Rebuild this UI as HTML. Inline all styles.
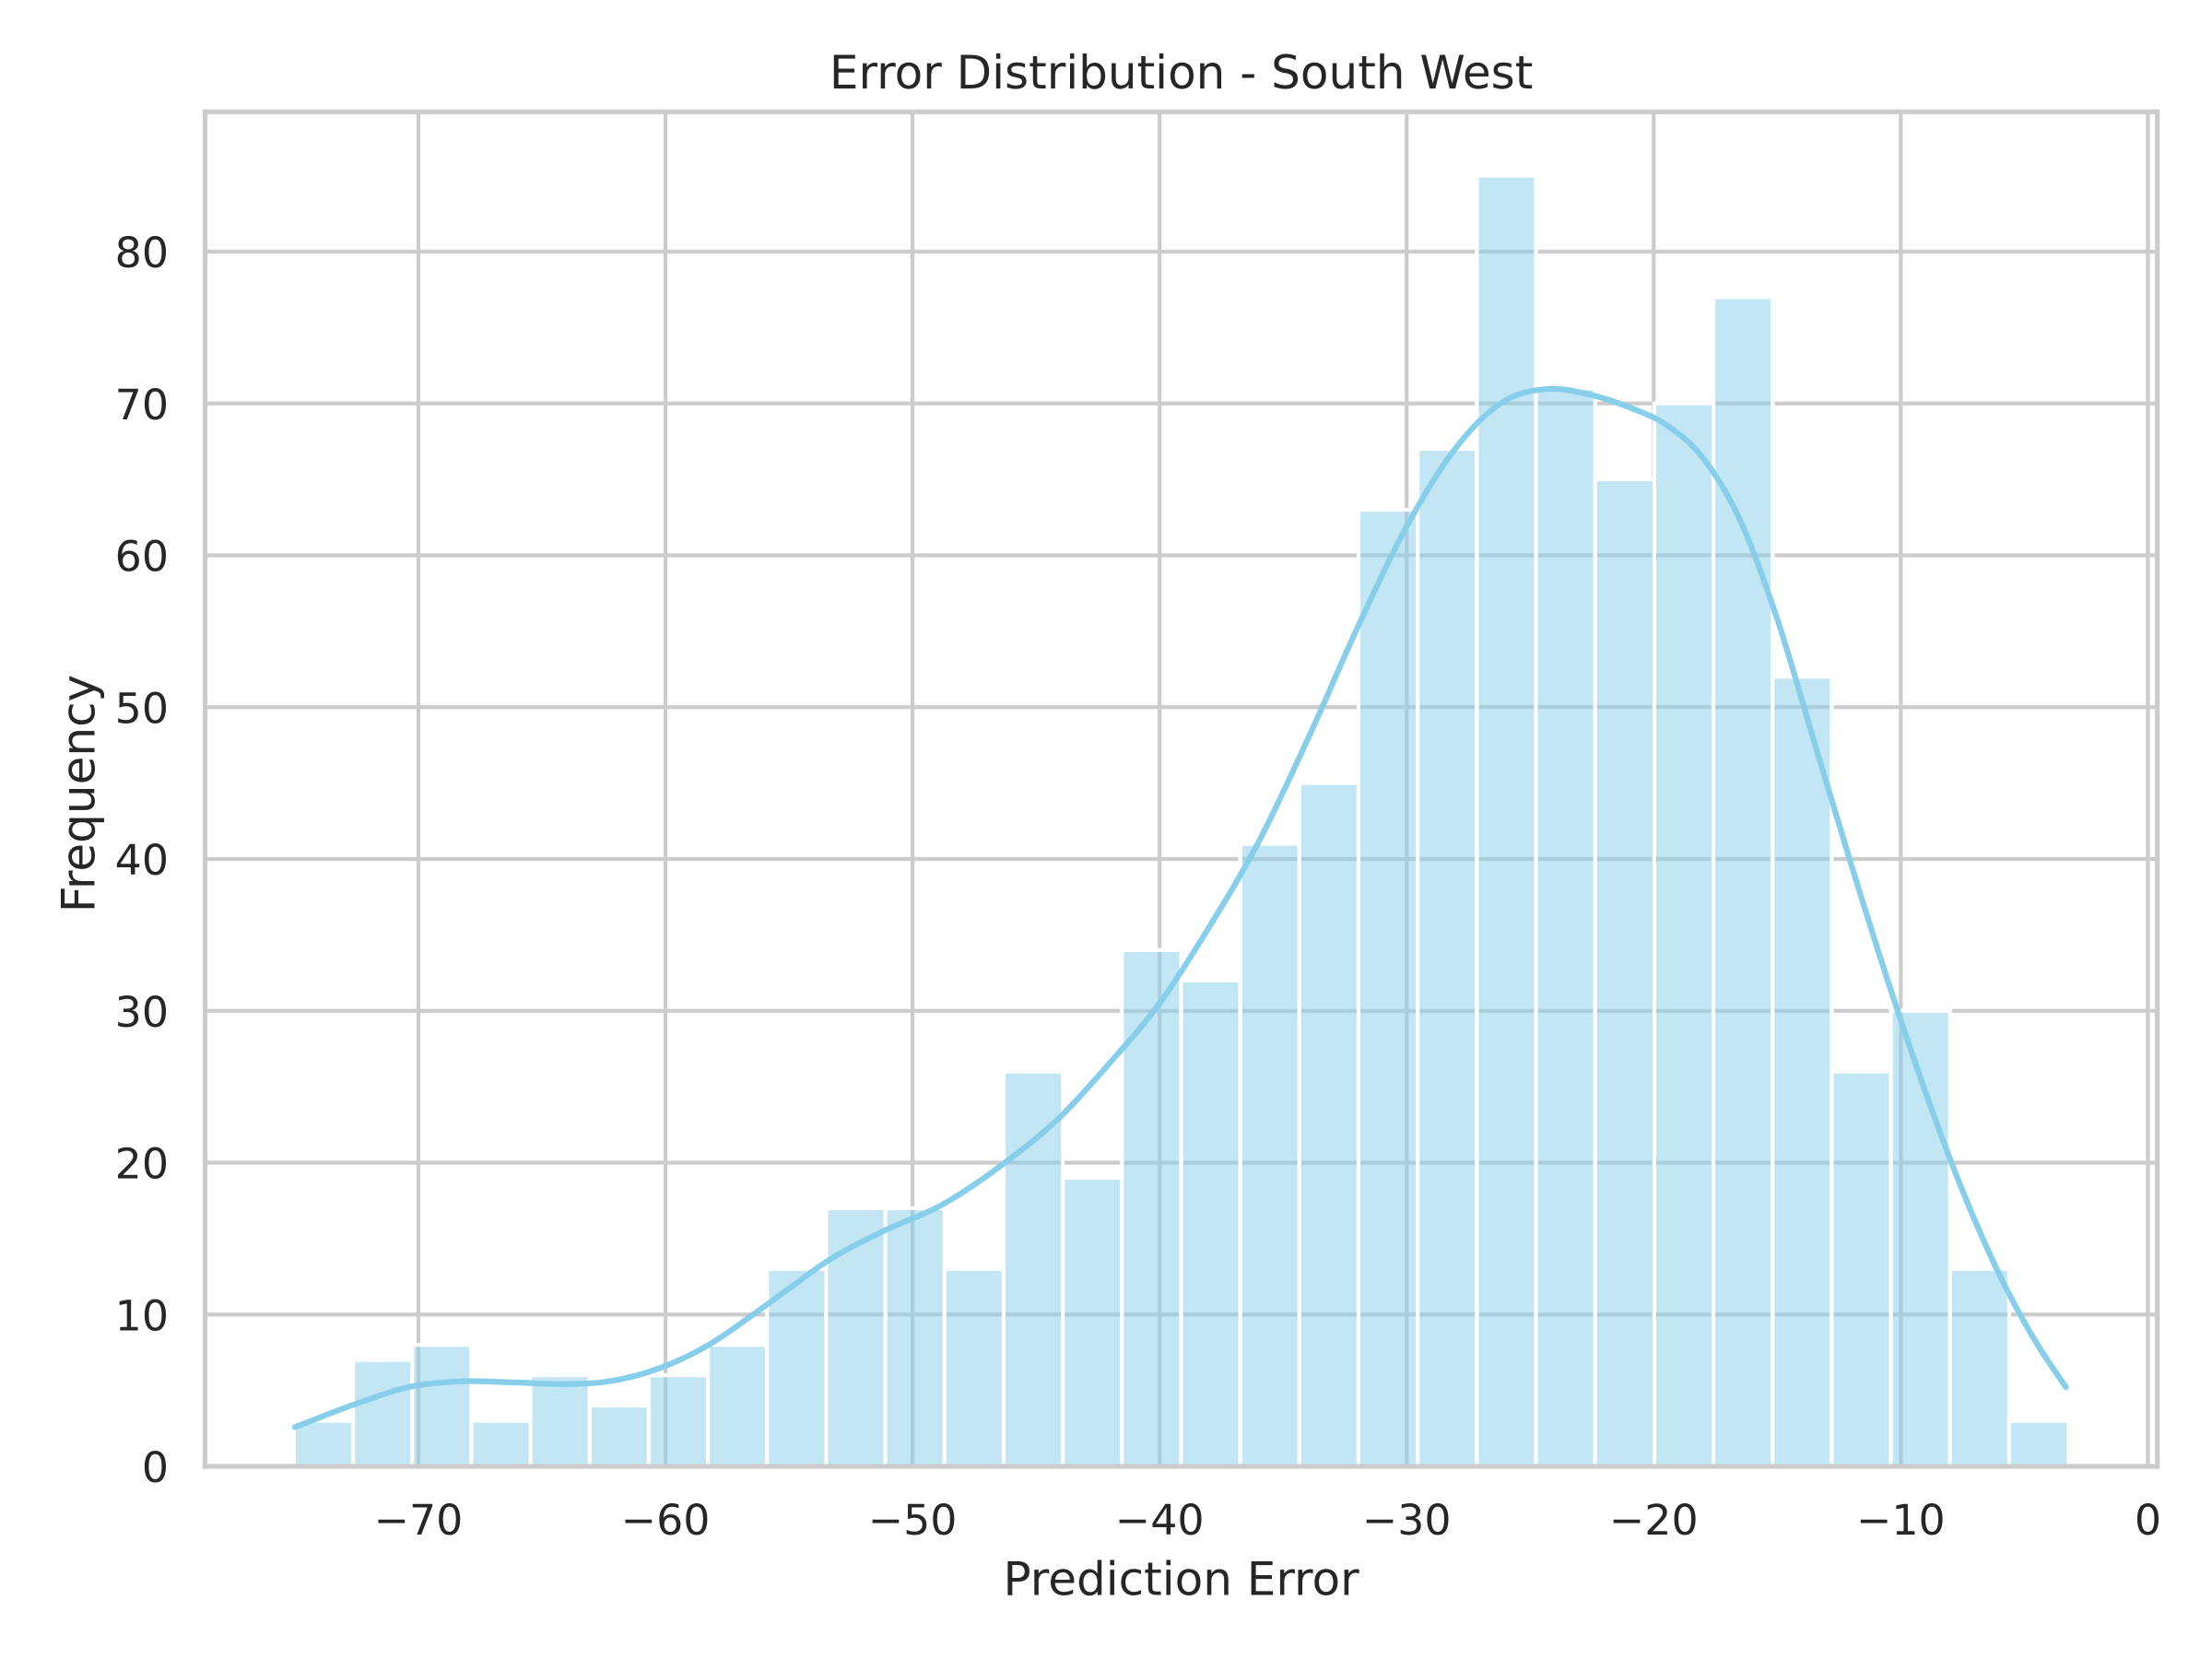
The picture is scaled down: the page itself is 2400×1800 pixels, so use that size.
<!DOCTYPE html>
<html lang="en">
<head>
<meta charset="utf-8">
<title>Error Distribution - South West</title>
<style>
  html, body { margin: 0; padding: 0; background: #ffffff; }
  svg { display: block; }
  text { font-family: "DejaVu Sans", "Liberation Sans", sans-serif; fill: #262626; }
</style>
</head>
<body>
<svg id="chart" xmlns="http://www.w3.org/2000/svg" width="2400" height="1800" viewBox="0 0 2400 1800">
  <rect x="0" y="0" width="2400" height="1800" fill="#ffffff"/>
  <defs>
    <clipPath id="plot-clip"><rect x="222.5" y="121.3" width="2118.2" height="1469.7"/></clipPath>
  </defs>
  <g id="grid" clip-path="url(#plot-clip)"></g>
  <g id="bars" clip-path="url(#plot-clip)"></g>
  <path id="kde" fill="none" stroke="#87ceeb" stroke-width="6.25" stroke-linecap="round" stroke-linejoin="round"/>
  <g stroke="#cccccc" stroke-width="5.2" stroke-linecap="square">
    <line x1="222.5" y1="121.3" x2="222.5" y2="1591"/>
    <line x1="2340.7" y1="121.3" x2="2340.7" y2="1591"/>
    <line x1="222.5" y1="121.3" x2="2340.7" y2="121.3"/>
    <line x1="222.5" y1="1591" x2="2340.7" y2="1591"/>
  </g>
  <g id="x-labels"></g>
  <g id="y-labels"></g>
  <text x="1281.6" y="96" font-size="50" text-anchor="middle">Error Distribution - South West</text>
  <text x="1281.6" y="1730.5" font-size="50" text-anchor="middle">Prediction Error</text>
  <text x="0" y="0" font-size="50" text-anchor="middle" transform="translate(102.5 861) rotate(-90)">Frequency</text>
</svg>
<script>
const binCounts = [3,7,8,3,6,4,6,8,13,17,17,13,26,19,34,32,41,45,63,67,85,71,65,70,77,52,26,30,13,3];
const binStart = -75.04;
const binEnd = -3.22;
const xTicks = [-70,-60,-50,-40,-30,-20,-10,0];
const xTickLabels = ["\u221270","\u221260","\u221250","\u221240","\u221230","\u221220","\u221210","0"];
const yTicks = [0,10,20,30,40,50,60,70,80];
const yTickLabels = ["0","10","20","30","40","50","60","70","80"];
const kdeValues = [-75.0,-72.64,-70.27,-68.28,-66,-64,-62.5,-60.2,-58.2,-56.35,-55.1,-53.36,-51.12,-48.88,-46.27,-44,-42,-40,-38,-36,-34,-32,-30,-28,-26,-24.3,-22.5,-21,-19.5,-18,-16.5,-15,-13.5,-12,-10.5,-9,-7.5,-6,-4.5,-3.32];
const kdeCounts = [2.58,4.05,5.26,5.60,5.52,5.42,5.55,6.49,8.05,10.12,11.59,13.61,15.54,17.16,19.99,23.05,26.6,30.5,35.5,41.1,47.9,55.2,61.9,67.1,70.2,70.95,70.55,69.75,68.6,66.4,62.3,55.8,47.7,39.6,31.85,24.65,18.15,12.6,8.1,5.22];

const SVG_NS = "http://www.w3.org/2000/svg";
function xScale(v) { return 2330.4 + 26.806 * v; }
function yScale(c) { return 1591 - 16.475 * c; }

const gridGroup = document.getElementById("grid");
xTicks.forEach(function (t) {
  const el = document.createElementNS(SVG_NS, "line");
  
  
  el.setAttribute("x1", xScale(t));
  el.setAttribute("x2", xScale(t));
  el.setAttribute("y1", 121.3);
  el.setAttribute("y2", 1591);
  el.setAttribute("stroke", "#cccccc");
  el.setAttribute("stroke-width", 4.17);
  gridGroup.appendChild(el);
});
yTicks.forEach(function (t) {
  const el = document.createElementNS(SVG_NS, "line");
  
  
  el.setAttribute("x1", 222.5);
  el.setAttribute("x2", 2340.7);
  el.setAttribute("y1", yScale(t));
  el.setAttribute("y2", yScale(t));
  el.setAttribute("stroke", "#cccccc");
  el.setAttribute("stroke-width", 4.17);
  gridGroup.appendChild(el);
});

const barGroup = document.getElementById("bars");
const binWidth = (binEnd - binStart) / binCounts.length;
binCounts.forEach(function (count, i) {
  const left = xScale(binStart + i * binWidth);
  const right = xScale(binStart + (i + 1) * binWidth);
  const el = document.createElementNS(SVG_NS, "rect");
  
  
  el.setAttribute("x", left);
  el.setAttribute("y", yScale(count));
  el.setAttribute("width", right - left);
  el.setAttribute("height", yScale(0) - yScale(count));
  el.setAttribute("fill", "#87ceeb");
  el.setAttribute("fill-opacity", 0.5);
  el.setAttribute("stroke", "#ffffff");
  el.setAttribute("stroke-width", 4.17);
  barGroup.appendChild(el);
});

const px = kdeValues.map(xScale);
const py = kdeCounts.map(yScale);
const n = px.length;
const slopes = [];
for (let i = 0; i < n; i++) {
  if (i === 0) {
    slopes.push((py[1] - py[0]) / (px[1] - px[0]));
  } else if (i === n - 1) {
    slopes.push((py[n - 1] - py[n - 2]) / (px[n - 1] - px[n - 2]));
  } else {
    const h0 = px[i] - px[i - 1];
    const h1 = px[i + 1] - px[i];
    const s0 = (py[i] - py[i - 1]) / h0;
    const s1 = (py[i + 1] - py[i]) / h1;
    slopes.push((s0 * h1 + s1 * h0) / (h0 + h1));
  }
}
let d = "M" + px[0] + " " + py[0];
for (let i = 0; i < n - 1; i++) {
  const h = px[i + 1] - px[i];
  d += " C" + (px[i] + h / 3) + " " + (py[i] + slopes[i] * h / 3) + " " +
       (px[i + 1] - h / 3) + " " + (py[i + 1] - slopes[i + 1] * h / 3) + " " +
       px[i + 1] + " " + py[i + 1];
}
document.getElementById("kde").setAttribute("d", d);

const xLabelGroup = document.getElementById("x-labels");
xTicks.forEach(function (t, i) {
  const el = document.createElementNS(SVG_NS, "text");
  
  
  el.setAttribute("x", xScale(t));
  el.setAttribute("y", 1665);
  el.setAttribute("font-size", 45.83);
  el.setAttribute("text-anchor", "middle");
  el.textContent = xTickLabels[i];
  xLabelGroup.appendChild(el);
});
const yLabelGroup = document.getElementById("y-labels");
yTicks.forEach(function (t, i) {
  const el = document.createElementNS(SVG_NS, "text");
  
  
  el.setAttribute("x", 183);
  el.setAttribute("y", yScale(t) + 17);
  el.setAttribute("font-size", 45.83);
  el.setAttribute("text-anchor", "end");
  el.textContent = yTickLabels[i];
  yLabelGroup.appendChild(el);
});
</script>
</body>
</html>
